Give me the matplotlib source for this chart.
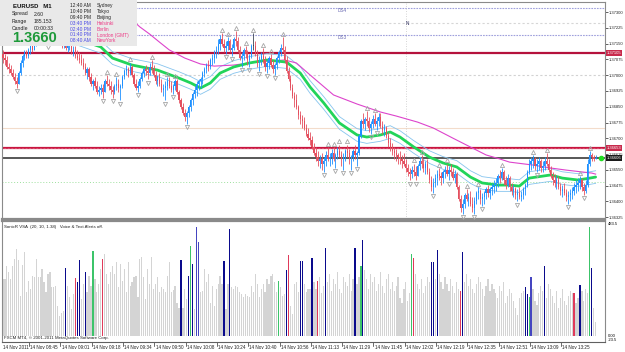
import numpy as np
import matplotlib
matplotlib.use("Agg")
import matplotlib.pyplot as plt
from matplotlib.transforms import blended_transform_factory

plt.rcParams['font.family'] = ['Liberation Sans', 'DejaVu Sans']

# ---------------- data ----------------
highs = [1.3712,1.3710,1.3709,1.3706,1.3705,1.3703,1.3701,1.3699,1.3702,1.3707,
 1.3710,1.3712,1.3712,1.3713,1.3715,1.3716,1.3717,1.3719,1.3721,1.3720,
 1.3722,1.3723,1.3721,1.3720,1.3722,1.3724,1.3723,1.3721,1.3722,1.3721,
 1.3718,1.3719,1.3718,1.3716,1.3717,1.3716,1.3714,1.3714,1.3712,1.3711,
 1.3710,1.3708,1.3706,1.3704,1.3704,1.3701,1.3698,1.3699,1.3697,1.3695,
 1.3696,1.3696,1.3698,1.3700,1.3698,1.3697,1.3695,1.3696,1.3699,1.3698,
 1.3696,1.3700,1.3703,1.3705,1.3704,1.3706,1.3705,1.3701,1.3698,1.3697,
 1.3699,1.3702,1.3704,1.3705,1.3704,1.3706,1.3707,1.3705,1.3702,1.3700,
 1.3701,1.3698,1.3696,1.3697,1.3699,1.3699,1.3697,1.3696,1.3698,1.3698,
 1.3693,1.3689,1.3687,1.3684,1.3683,1.3686,1.3689,1.3692,1.3695,1.3697,
 1.3698,
 1.3699,1.3702,1.3704,1.3706,1.3707,1.3708,1.3710,1.3712,1.3714,1.3717,
 1.3719,1.3720,1.3717,1.3716,1.3718,1.3717,1.3715,1.3718,1.3721,1.3718,
 1.3714,1.3711,1.3713,1.3714,1.3712,1.3710,1.3715,1.3720,1.3716,1.3712,
 1.3709,1.3711,1.3713,1.3709,1.3707,1.3709,1.3710,1.3707,1.3706,1.3709,
 1.3712,1.3715,1.3718,1.3714,1.3709,1.3704,1.3700,1.3696,1.3692,1.3691,
 1.3686,1.3683,1.3681,1.3680,1.3677,1.3675,1.3673,1.3671,1.3668,1.3666,
 1.3664,1.3662,1.3663,1.3661,1.3664,1.3666,1.3663,1.3665,1.3666,1.3663,
 1.3666,1.3667,1.3664,1.3663,1.3665,1.3667,1.3665,1.3662,1.3665,1.3667,
 1.3664,1.3672,1.3679,1.3682,1.3680,1.3683,1.3680,1.3678,1.3681,1.3682,
 1.3680,1.3682,1.3682,1.3678,1.3677,1.3676,1.3673,1.3670,1.3668,1.3666,
 1.3665,
 1.3663,
 1.3664,1.3662,1.3663,1.3660,1.3658,1.3656,1.3657,1.3658,1.3657,
 1.3658,1.3661,1.3662,1.3660,1.3659,1.3660,1.3656,1.3652,1.3651,1.3653,
 1.3655,1.3656,1.3654,1.3655,1.3657,1.3658,1.3657,1.3658,1.3656,1.3655,
 1.3654,1.3648,1.3643,1.3641,1.3644,1.3646,1.3644,1.3645,1.3642,1.3642,
 1.3645,1.3647,1.3646,1.3644,1.3645,1.3647,1.3648,1.3647,1.3649,1.3650,
 1.3651,1.3653,1.3655,1.3656,1.3655,1.3652,1.3653,1.3652,1.3649,1.3648,
 1.3647,1.3646,1.3647,1.3645,1.3647,1.3649,1.3655,1.3660,1.3661,1.3662,
 1.3661,1.3660,1.3661,1.3660,1.3659,1.3661,1.3663,1.3660,1.3657,1.3654,
 1.3653,1.3652,1.3652,1.3649,1.3648,1.3649,1.3646,1.3645,1.3646,1.3647,
 1.3649,1.3650,1.3651,1.3652,1.3651,1.3649,1.3650,1.3660,1.3664,1.3663,1.3662,1.3662]

lows = [1.3706,1.3705,1.3703,1.3701,1.3700,1.3698,1.3696,1.3694,1.3696,1.3700,
 1.3704,1.3707,1.3708,1.3708,1.3710,1.3711,1.3712,1.3714,1.3716,1.3715,
 1.3717,1.3718,1.3716,1.3715,1.3717,1.3719,1.3718,1.3716,1.3717,1.3715,
 1.3713,1.3713,1.3712,1.3711,1.3712,1.3710,1.3709,1.3708,1.3707,1.3706,
 1.3705,1.3703,1.3700,1.3698,1.3697,1.3695,1.3693,1.3694,1.3691,1.3690,
 1.3691,1.3689,1.3692,1.3695,1.3693,1.3691,1.3689,1.3691,1.3693,1.3692,
 1.3688,1.3694,1.3698,1.3700,1.3699,1.3700,1.3699,1.3695,1.3693,1.3692,
 1.3694,1.3697,1.3699,1.3700,1.3698,1.3700,1.3701,1.3699,1.3696,1.3695,
 1.3695,1.3692,1.3690,1.3688,1.3693,1.3694,1.3692,1.3691,1.3693,1.3691,
 1.3687,1.3684,1.3681,1.3678,1.3677,1.3680,1.3683,1.3686,1.3689,1.3690,
 1.3693,
 1.3694,1.3696,1.3699,1.3701,1.3702,1.3703,1.3705,1.3706,1.3708,1.3710,
 1.3712,1.3714,1.3711,1.3710,1.3712,1.3711,1.3709,1.3712,1.3714,1.3711,
 1.3707,1.3704,1.3707,1.3708,1.3705,1.3704,1.3708,1.3712,1.3709,1.3704,
 1.3702,1.3705,1.3706,1.3702,1.3701,1.3703,1.3704,1.3701,1.3700,1.3703,
 1.3706,1.3709,1.3711,1.3706,1.3701,1.3697,1.3693,1.3689,1.3685,1.3684,
 1.3679,1.3677,1.3675,1.3674,1.3671,1.3669,1.3667,1.3665,1.3662,1.3659,
 1.3657,1.3656,1.3655,1.3654,1.3657,1.3659,1.3657,1.3658,1.3659,1.3656,
 1.3660,1.3661,1.3657,1.3655,1.3659,1.3661,1.3658,1.3655,1.3659,1.3660,
 1.3657,1.3662,1.3670,1.3675,1.3674,1.3676,1.3673,1.3672,1.3675,1.3676,
 1.3674,1.3676,1.3675,1.3672,1.3671,1.3670,1.3666,1.3664,1.3662,1.3660,
 1.3659,
 1.3658,
 1.3658,1.3656,1.3657,1.3654,1.3652,1.3650,1.3651,1.3652,1.3650,
 1.3652,1.3655,1.3656,1.3654,1.3653,1.3653,1.3649,1.3645,1.3644,1.3647,
 1.3648,1.3650,1.3648,1.3649,1.3651,1.3652,1.3650,1.3652,1.3650,1.3649,
 1.3646,1.3640,1.3635,1.3634,1.3637,1.3640,1.3638,1.3638,1.3635,1.3634,
 1.3639,1.3641,1.3639,1.3638,1.3639,1.3641,1.3642,1.3641,1.3643,1.3644,
 1.3645,1.3647,1.3649,1.3650,1.3648,1.3646,1.3647,1.3645,1.3643,1.3642,
 1.3641,1.3640,1.3641,1.3640,1.3641,1.3643,1.3647,1.3653,1.3655,1.3656,
 1.3655,1.3654,1.3655,1.3654,1.3654,1.3655,1.3657,1.3654,1.3651,1.3648,
 1.3647,1.3646,1.3646,1.3643,1.3642,1.3643,1.3640,1.3639,1.3640,1.3641,
 1.3643,1.3644,1.3645,1.3646,1.3645,1.3643,1.3644,1.3647,1.3657,1.3659,1.3659,1.3660]

closes = [1.3708,1.3707,1.3704,1.3703,1.3701,1.3699,1.3697,1.3696,1.3701,1.3706,
 1.3709,1.3711,1.3709,1.3712,1.3714,1.3712,1.3716,1.3718,1.3717,1.3719,
 1.3721,1.3719,1.3717,1.3718,1.3721,1.3722,1.3719,1.3718,1.3720,1.3716,
 1.3715,1.3717,1.3713,1.3714,1.3715,1.3711,1.3712,1.3709,1.3708,1.3707,
 1.3706,1.3704,1.3701,1.3703,1.3699,1.3696,1.3697,1.3695,1.3692,1.3693,
 1.3694,1.3692,1.3697,1.3696,1.3695,1.3693,1.3692,1.3695,1.3696,1.3694,
 1.3695,1.3699,1.3702,1.3703,1.3701,1.3704,1.3700,1.3696,1.3694,1.3695,
 1.3698,1.3701,1.3703,1.3702,1.3701,1.3704,1.3703,1.3700,1.3697,1.3699,
 1.3696,1.3693,1.3694,1.3695,1.3697,1.3695,1.3693,1.3695,1.3697,1.3692,
 1.3688,1.3685,1.3682,1.3680,1.3682,1.3685,1.3688,1.3691,1.3693,1.3696,
 1.3697,
 1.3698,1.3701,1.3703,1.3705,1.3704,1.3707,1.3708,1.3711,1.3712,1.3715,
 1.3717,1.3715,1.3713,1.3714,1.3716,1.3712,1.3713,1.3717,1.3716,1.3712,
 1.3708,1.3709,1.3712,1.3710,1.3707,1.3709,1.3714,1.3714,1.3710,1.3706,
 1.3707,1.3709,1.3707,1.3704,1.3706,1.3708,1.3705,1.3703,1.3705,1.3708,
 1.3711,1.3713,1.3712,1.3707,1.3702,1.3698,1.3694,1.3690,1.3688,1.3685,
 1.3681,1.3679,1.3678,1.3675,1.3672,1.3670,1.3669,1.3666,1.3663,1.3661,
 1.3659,1.3660,1.3658,1.3659,1.3662,1.3660,1.3661,1.3663,1.3660,1.3662,
 1.3664,1.3662,1.3660,1.3661,1.3664,1.3663,1.3660,1.3661,1.3664,1.3662,
 1.3663,1.3671,1.3678,1.3677,1.3679,1.3678,1.3675,1.3677,1.3679,1.3677,
 1.3678,1.3680,1.3676,1.3674,1.3675,1.3671,1.3668,1.3666,1.3664,1.3663,
 1.3662,
 1.3661,
 1.3660,1.3659,1.3658,1.3656,1.3654,1.3653,1.3655,1.3654,1.3652,
 1.3657,1.3659,1.3658,1.3656,1.3658,1.3654,1.3650,1.3647,1.3649,1.3651,
 1.3653,1.3652,1.3651,1.3654,1.3655,1.3653,1.3655,1.3654,1.3651,1.3653,
 1.3647,1.3641,1.3637,1.3639,1.3643,1.3641,1.3642,1.3639,1.3637,1.3640,
 1.3644,1.3645,1.3641,1.3642,1.3644,1.3646,1.3644,1.3646,1.3647,1.3648,
 1.3649,1.3652,1.3651,1.3654,1.3650,1.3648,1.3651,1.3647,1.3645,1.3646,
 1.3643,1.3644,1.3642,1.3643,1.3646,1.3648,1.3654,1.3658,1.3659,1.3660,
 1.3657,1.3658,1.3659,1.3656,1.3657,1.3659,1.3658,1.3655,1.3652,1.3650,
 1.3649,1.3650,1.3647,1.3645,1.3646,1.3644,1.3642,1.3643,1.3644,1.3645,
 1.3647,1.3648,1.3649,1.3650,1.3647,1.3645,1.3648,1.3658,1.3662,1.3661,1.3660,1.36606]
first_open = 1.3710

volumes = [240,241,297,269,240,297,325,367,318,170,300,353,184,234,198,255,248,325,248,248,
 283,227,184,262,269,206,206,213,128,86,100,107,287,213,163,114,177,244,227,318,
 156,220,269,184,255,213,356,241,184,220,283,325,346,262,220,269,297,262,311,206,
 304,234,283,184,311,213,227,248,255,163,325,332,248,156,283,220,332,198,220,248,
 184,206,198,184,255,311,184,195,213,142,121,321,121,198,156,255,379,304,114,459,
 396,184,191,283,227,262,142,213,128,198,220,255,220,315,114,220,449,206,198,213,
 206,184,177,163,177,170,163,213,184,262,220,163,198,220,184,241,220,255,262,227,
 184,231,206,170,177,280,342,128,93,220,227,184,314,314,220,184,198,200,327,230,
 200,234,250,180,210,369,230,260,190,240,220,270,200,180,250,230,210,260,190,240,
 369,220,250,297,403,280,240,200,260,230,250,190,220,270,210,180,240,260,200,230,
 190,210,250,160,140,200,230,150,180,344,327,260,220,200,240,180,210,250,230,310,
 310,240,361,260,230,200,250,220,190,240,210,180,230,200,192,352,230,260,210,240,
 200,180,220,250,230,200,170,210,240,190,220,200,180,160,210,190,230,140,170,200,
 180,150,120,90,160,180,190,206,179,167,248,200,150,130,180,210,190,293,160,220,
 200,170,140,190,120,160,200,150,130,170,190,180,180,140,160,217,190,150,200,180,
 457,286,120,60]
vol_signal = {32:'n', 37:'r', 38:'n', 39:'n', 42:'n', 46:'g', 51:'r', 91:'n', 95:'n', 96:'g',
              97:'n', 99:'b', 100:'b', 113:'n', 116:'n', 141:'g', 145:'n', 146:'r', 152:'n',
              153:'n', 158:'n', 161:'r', 165:'n', 180:'n', 183:'g', 184:'n', 209:'g', 210:'r',
              219:'n', 220:'n', 222:'n', 234:'r', 235:'n', 267:'n', 268:'n', 269:'g', 270:'b',
              277:'n', 292:'r', 295:'n', 300:'g', 301:'n'}

fast_ma_bars = [37,50,56,66,79,90,96,101,106,111,118,126,135,145,152,157,164,172,181,186,
                193,198,203,210,218,225,232,239,245,253,259,264,269,280,286,294,300,303]
fast_ma = [1.37176,1.37134,1.37081,1.37048,1.37024,1.36986,1.36963,1.36939,1.36963,1.37010,
           1.37039,1.37058,1.37072,1.37062,1.37010,1.36944,1.36868,1.36773,1.36716,1.36706,
           1.36716,1.36730,1.36706,1.36659,1.36611,1.36583,1.36564,1.36516,1.36488,1.36478,
           1.36478,1.36473,1.36511,1.36526,1.36511,1.36502,1.36511,1.36516]
envelope_offset = 0.00030
slow_ma_bars = [55,65,70,75,80,85,93,101,108,118,126,135,144,150,157,169,181,193,201,212,
                220,230,237,247,254,259,271,280,288,301,303]
slow_ma = [1.37381,1.37271,1.37229,1.37195,1.37157,1.37120,1.37081,1.37053,1.37043,1.37048,
           1.37058,1.37067,1.37072,1.37058,1.37001,1.36906,1.36863,1.36825,1.36806,1.36777,
           1.36749,1.36701,1.36668,1.36621,1.36602,1.36587,1.36573,1.36559,1.36549,1.36535,1.36530]

ds4_level = 1.37319
ds3_level = 1.37191
grey_level_top = 1.37249
red_level_top = 1.37105
round_level = 1.37000
beige_level = 1.36749
red_level_low = 1.36653
bid_level = 1.36606
green_level = 1.36492
separator_bar = 206

price_ticks = [1.37300,1.37225,1.37150,1.37075,1.37000,1.36925,1.36850,1.36775,
               1.36700,1.36625,1.36550,1.36475,1.36400,1.36325]
time_label_bars = [0,14,30,46,62,78,94,110,126,142,158,174,190,206,222,238,254,270,286]
time_labels = ["14 Nov 2011","14 Nov 08:45","14 Nov 09:01","14 Nov 09:18","14 Nov 09:34",
               "14 Nov 09:50","14 Nov 10:08","14 Nov 10:24","14 Nov 10:40","14 Nov 10:56",
               "14 Nov 11:13","14 Nov 11:29","14 Nov 11:45","14 Nov 12:02","14 Nov 12:19",
               "14 Nov 12:35","14 Nov 12:51","14 Nov 13:09","14 Nov 13:25"]
vol_max, vol_min = 483.5, -23.5

symbol = "EURUSD   M1"
info_labels = ["Spread", "Range", "Candle"]
info_values = ["2.60", "185.153", "00:00:33"]
big_price = "1.3660"
clock_times = ["12:40 AM","10:40 PM","09:40 PM","03:40 PM","02:40 PM","01:40 PM","08:40 AM"]
clock_cities = ["Sydney","Tokyo","Beijing","Helsinki","Berlin","London (GMT)","NewYork"]

# ---------------- figure ----------------
W, H = 625, 352
fig = plt.figure(figsize=(W/100, H/100), dpi=100)
fig.patch.set_facecolor('white')
def fx(px): return px / W
def fy(py): return 1 - py / H

ax = fig.add_axes([fx(2), fy(219), fx(603), 217 / H])
axv = fig.add_axes([fx(2), fy(342), fx(603), 121 / H])

n = len(closes)
idx = np.arange(n)
hi = np.array(highs); lo = np.array(lows); cl = np.array(closes)
op = np.concatenate([[first_open], cl[:-1]])

up_c, dn_c, flat_c = '#1E90FF', '#E4505F', '#3C4456'
ccol = [up_c if c - o > 0.00004 else (dn_c if o - c > 0.00004 else flat_c) for o, c in zip(op, cl)]

# horizontal levels
ax.axhline(ds4_level, color='#9FA0DC', lw=0.8, ls=(0, (1.5, 1)), zorder=1)
ax.axhline(grey_level_top, color='#D6D6D6', lw=0.8, ls=(0, (2, 2)), zorder=1)
ax.axhline(ds3_level, color='#9FA0DC', lw=0.8, ls=(0, (1.5, 1)), zorder=1)
ax.axhline(round_level, color='#D2D2D2', lw=0.8, ls=(0, (2, 2)), zorder=1)
ax.axhline(beige_level, color='#F3DCCB', lw=0.8, zorder=1)
ax.axhline(green_level, color='#9EE09E', lw=0.7, ls=(0, (1, 2)), zorder=1)
ax.axvline(separator_bar, color='#C8C8C8', lw=0.6, ls=(0, (1, 2)), zorder=1)
ax.axhline(red_level_top, color='#B5123C', lw=1.6, zorder=2)
ax.axhline(red_level_low, color='#C8163F', lw=1.6, zorder=2)
ax.axhline(red_level_low, color='#F08AA8', lw=0.5, ls=(0, (1, 1)), zorder=2)
ax.axhline(bid_level, color='#4A4A4A', lw=1.3, zorder=2)

ax.text(171, ds4_level, "DS4", fontsize=3.4, color='#6C6CB4', va='top', ha='left')
ax.text(171, ds3_level, "DS3", fontsize=3.4, color='#6C6CB4', va='top', ha='left')
ax.text(207, 1.37245, "N", fontsize=3.4, color='#303060', va='center', ha='center')

# moving averages
fb = np.array(fast_ma_bars); fm = np.array(fast_ma)
ax.plot(fb, fm + envelope_offset, color='#86C4EE', lw=0.6, zorder=3)
ax.plot(fb, fm - envelope_offset, color='#86C4EE', lw=0.6, zorder=3)
ax.plot(slow_ma_bars, slow_ma, color='#DD44CC', lw=0.8, zorder=3)
ax.plot(fb, fm, color='#22D45A', lw=2.0, zorder=3, solid_capstyle='round')

# candles
ax.vlines(idx, lo, hi, colors=ccol, lw=0.6, zorder=4)
body_b = np.minimum(op, cl)
body_h = np.maximum(np.abs(cl - op), 0.000015)
ax.bar(idx, body_h, bottom=body_b, width=0.62, color=ccol, linewidth=0, zorder=4)

# fractals
frac_up = [i for i in range(2, n - 2) if hi[i] > max(hi[i-2], hi[i-1]) and hi[i] >= max(hi[i+1], hi[i+2])]
frac_dn = [i for i in range(2, n - 2) if lo[i] < min(lo[i-2], lo[i-1]) and lo[i] <= min(lo[i+1], lo[i+2])]
ax.plot(frac_up, hi[frac_up] + 0.00015, ls='none', marker='^', ms=3.0, mfc='none', mec='#A6A6A6', mew=0.6, zorder=5)
ax.plot(frac_dn, lo[frac_dn] - 0.00015, ls='none', marker='v', ms=3.0, mfc='none', mec='#A6A6A6', mew=0.6, zorder=5)

ax.plot([305.5], [bid_level], 'o', color='#22DD22', ms=3, zorder=6, clip_on=False)

ax.set_xlim(-0.5, 307.8)
ax.set_ylim(1.363168, 1.373475)
ax.set_xticks([])
ax.yaxis.tick_right()
ax.set_yticks(price_ticks)
ax.set_yticklabels([f"{p:.5f}" for p in price_ticks])
ax.tick_params(axis='y', length=2, width=0.5, labelsize=3.0, pad=1.0, colors='#202020')
for s in ax.spines.values():
    s.set_color('#8A8A8A'); s.set_linewidth(0.8)
ax.spines['bottom'].set_linewidth(1.6)

ytr = ax.get_yaxis_transform()
for lvl, txt, fc in [(red_level_top, "1.37105", '#C82A4C'), (red_level_low, "1.36653", '#C82A4C'),
                     (bid_level, "1.36606", '#1A1A1A')]:
    ax.text(1.003, lvl, txt, transform=ytr, fontsize=3.0, color='white', va='center', ha='left',
            bbox=dict(boxstyle='square,pad=0.2', fc=fc, ec='none'), clip_on=False, zorder=10)

# volume panel
vcolors = {'n': '#0A0A8C', 'b': '#4545C0', 'g': '#3CC46A', 'r': '#E03A5A'}
vcol = [vcolors.get(vol_signal.get(i, ''), '#D4D4D4') for i in range(len(volumes))]
axv.bar(np.arange(len(volumes)), volumes, width=0.62, color=vcol, linewidth=0)
axv.set_xlim(-0.5, 307.8)
axv.set_ylim(vol_min, vol_max)
axv.set_xticks([]); axv.set_yticks([])
for s in axv.spines.values():
    s.set_color('#8A8A8A'); s.set_linewidth(0.8)
axv.spines['top'].set_linewidth(1.6)
axv.spines['bottom'].set_color('#606060')
axv.text(0.004, 0.95, "SonicR VSA  (20, 10, 1.38)   Voice & Text Alerts off.", transform=axv.transAxes,
         fontsize=3.2, color='#202020', va='center', ha='left')
axv.text(0.003, 0.035, "FXCM MT4, \u00a9 2001-2011 MetaQuotes Software Corp.", transform=axv.transAxes,
         fontsize=3.2, color='#202020', va='center', ha='left')
ytv = axv.get_yaxis_transform()
axv.text(1.005, vol_max - 12, "483.5", transform=ytv, fontsize=3.0, va='center', ha='left', clip_on=False)
axv.text(1.005, 2, "0.00", transform=ytv, fontsize=3.0, va='center', ha='left', clip_on=False)
axv.text(1.005, -16, "-23.5", transform=ytv, fontsize=3.0, va='center', ha='left', clip_on=False)

xtr = blended_transform_factory(axv.transData, axv.transAxes)
for b, lab in zip(time_label_bars, time_labels):
    if b > 0:
        axv.plot([b - 0.6, b - 0.6], [0, -0.03], color='#303030', lw=0.5, transform=xtr, clip_on=False)
    axv.text(b, -0.045, lab, transform=xtr, fontsize=3.3, color='#202020', va='center', ha='left', clip_on=False)

# info panel
axi = fig.add_axes([0, fy(46), fx(137), 46 / H])
axi.set_facecolor('#E9E9E9')
axi.set_xticks([]); axi.set_yticks([])
for s in axi.spines.values():
    s.set_visible(False)
axi.set_xlim(0, 137); axi.set_ylim(46, 0)
axi.text(13, 6, symbol, fontsize=4.3, fontweight='bold', color='#111111', va='center', ha='left')
for k, (l, v) in enumerate(zip(info_labels, info_values)):
    axi.text(12, 14 + 7.3 * k, l, fontsize=3.7, color='#222222', va='center', ha='left')
    axi.text(34, 14 + 7.3 * k, v, fontsize=3.7, color='#222222', va='center', ha='left')
axi.text(12, 38.5, big_price, fontsize=10.5, fontweight='bold', color='#1E9A3A', va='center', ha='left')
rows_y = [5.7, 11.3, 17.3, 23.3, 29.3, 35, 41]
for k, (t, c) in enumerate(zip(clock_times, clock_cities)):
    tc = '#222222' if k < 3 else '#4A4AE6'
    cc = '#222222' if k < 3 else '#EC3C86'
    axi.text(70, rows_y[k], t, fontsize=3.5, color=tc, va='center', ha='left')
    axi.text(97, rows_y[k], c, fontsize=3.5, color=cc, va='center', ha='left')

fig.savefig("out.png", dpi=100, facecolor='white')
